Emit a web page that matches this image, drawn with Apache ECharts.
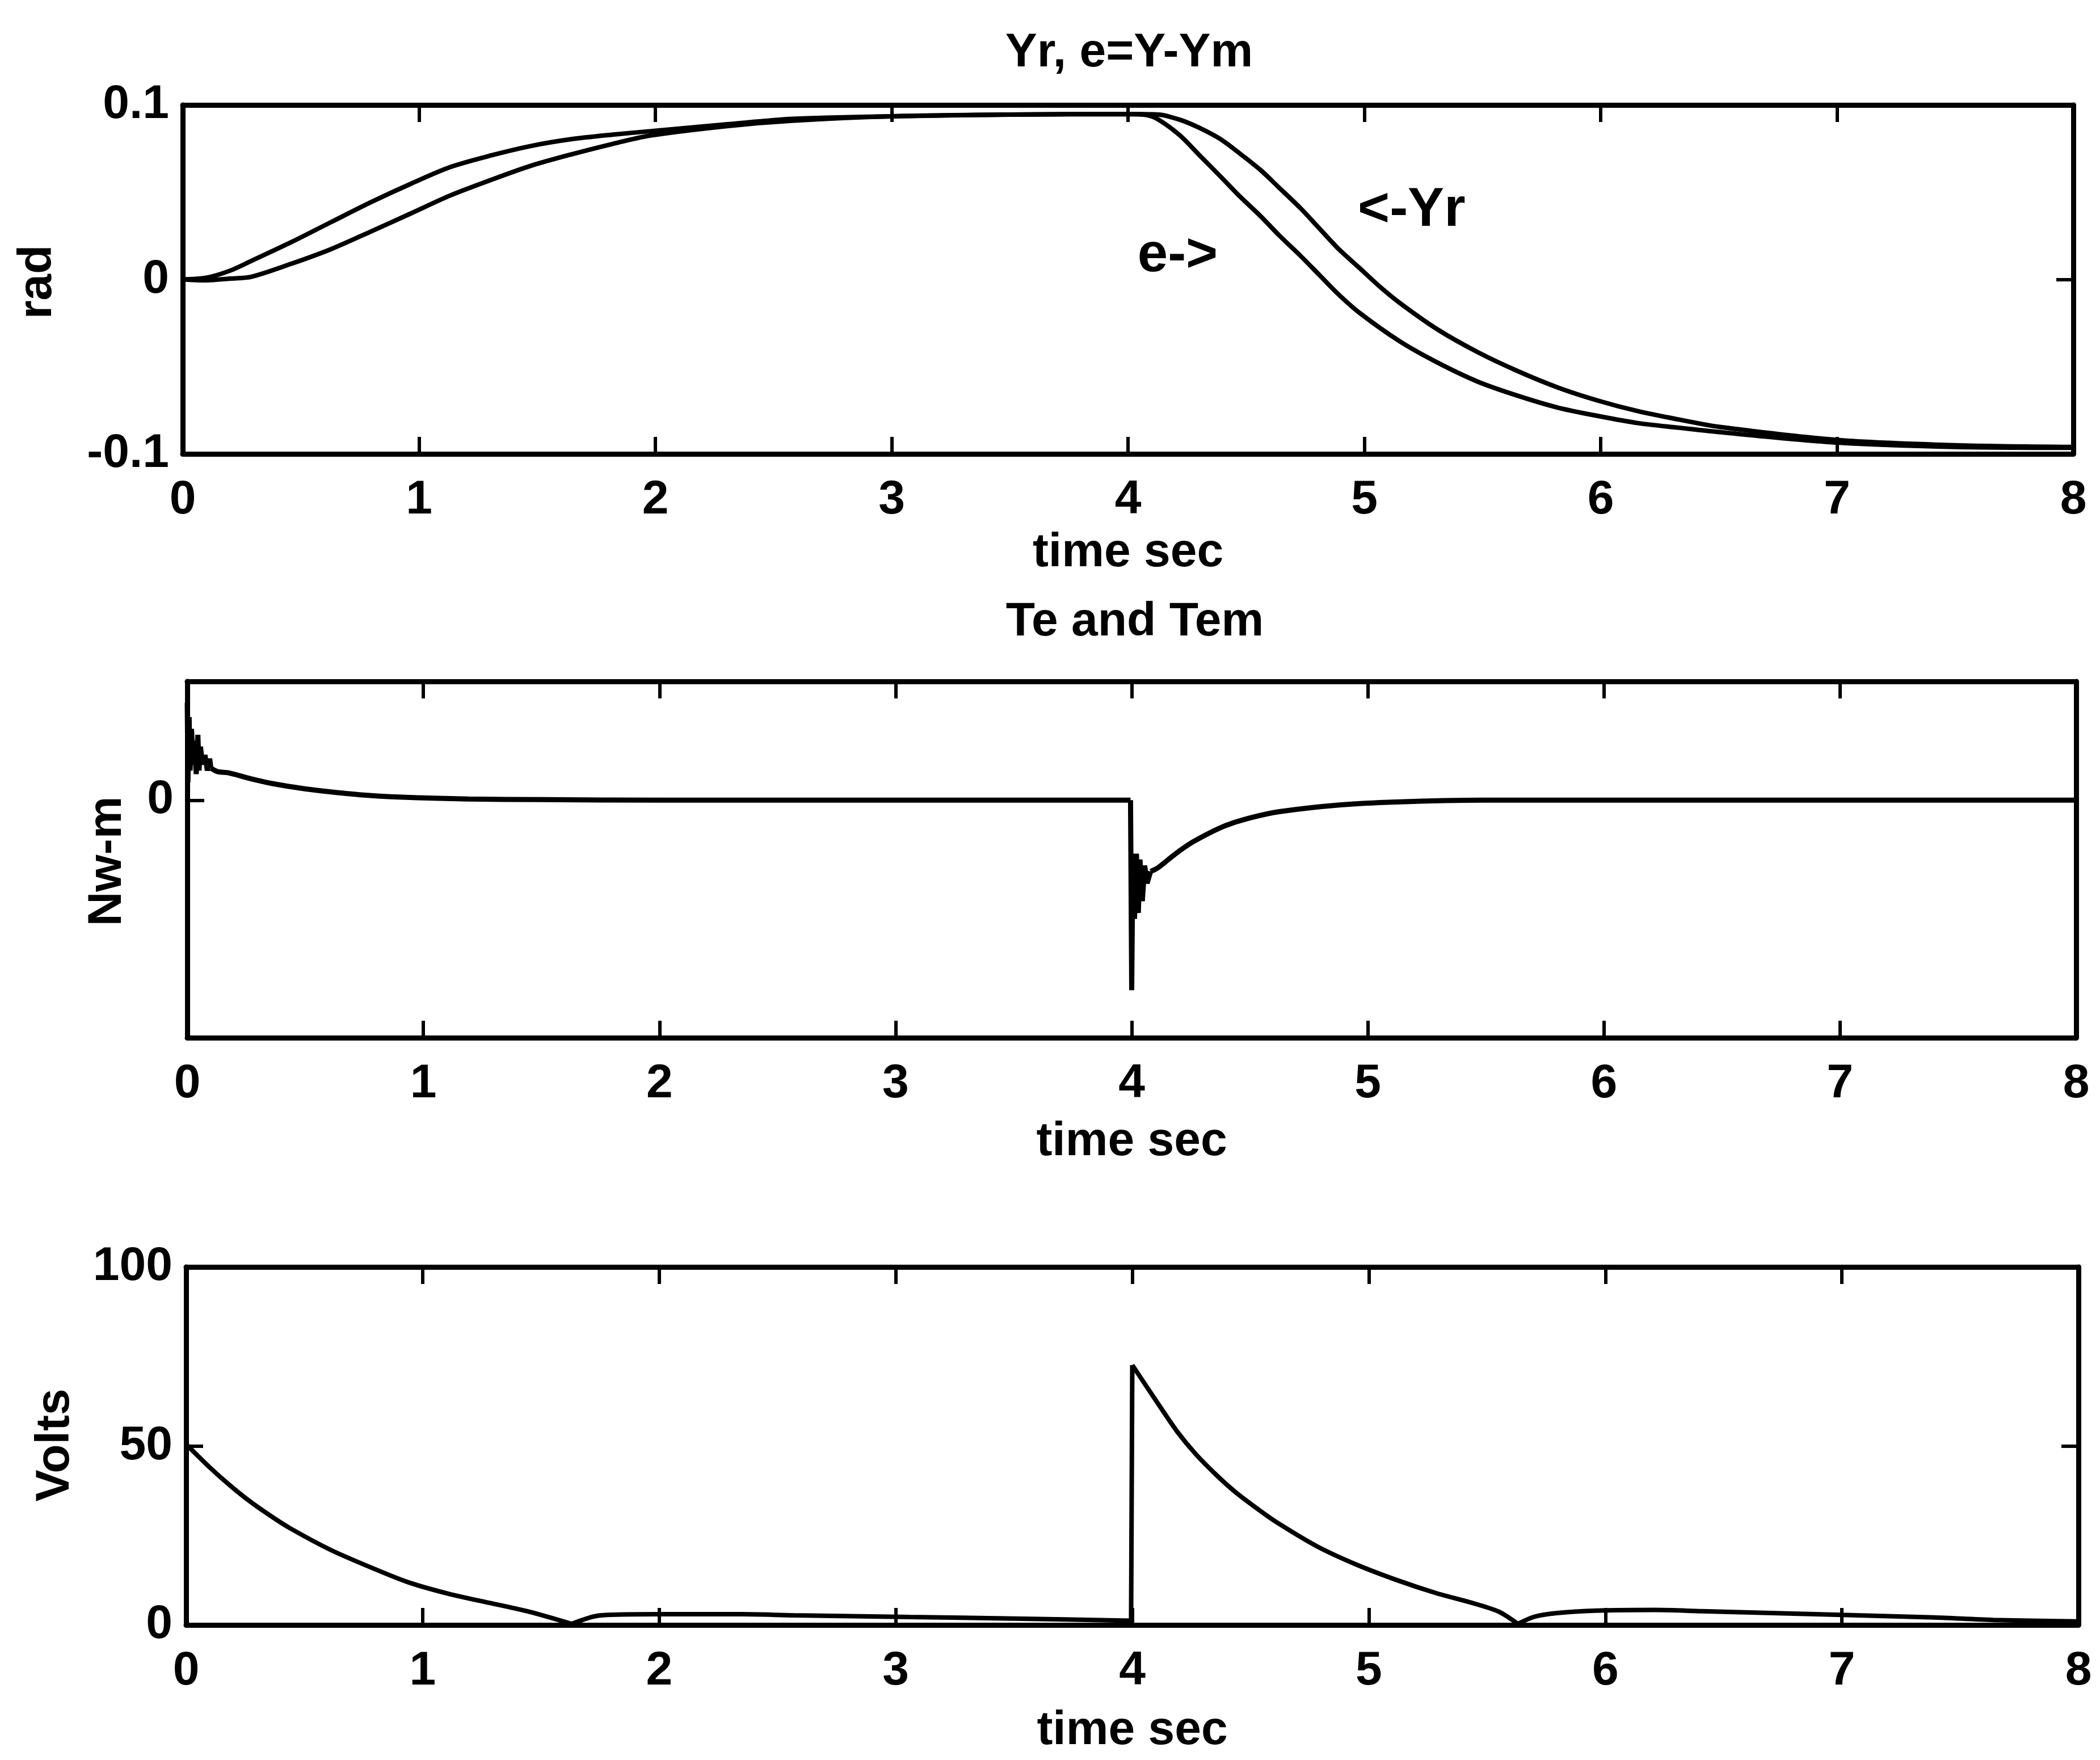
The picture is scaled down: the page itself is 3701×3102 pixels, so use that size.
<!DOCTYPE html>
<html lang="en">
<head>
<meta charset="UTF-8">
<title>Yr, e=Y-Ym / Te and Tem / Volts</title>
<script src="https://cdn.jsdelivr.net/npm/echarts@6/dist/echarts.min.js"></script>
<style>
    html, body { margin: 0; padding: 0; background: #fff; }
    #chart { width: 3701px; height: 3102px; }
</style>
</head>
<body>
<div id="chart"></div>
<script>
    // panel 1: Yr and e (rad)
    const eTime = [0, 0.1, 0.2, 0.29, 0.46, 0.63, 0.8, 0.965, 1.13, 1.3, 1.47, 1.64, 1.82, 1.98, 2.31, 2.58, 3.0, 3.5, 4.0,
        4.08, 4.13, 4.22, 4.30, 4.39, 4.47, 4.56, 4.64, 4.73, 4.81, 4.89, 4.98, 5.15, 5.31, 5.48, 5.65, 5.82, 5.99, 6.16, 6.33, 6.5, 7.0, 7.5, 8.0];
    const eValues = [0, 0.001, 0.005, 0.0106, 0.0214, 0.033, 0.0445, 0.0548, 0.0643, 0.0709, 0.0764, 0.0803, 0.083, 0.085, 0.089, 0.092, 0.0935, 0.0945, 0.0948,
        0.0942, 0.0915, 0.0825, 0.0715, 0.0592, 0.048, 0.0364, 0.0252, 0.0135, 0.0025, -0.0085, -0.0192, -0.0355, -0.0477, -0.0586, -0.0667, -0.0735, -0.0783, -0.0824, -0.085, -0.0875, -0.0935, -0.096, -0.0965];

    const yrTime = [0, 0.1, 0.2, 0.29, 0.46, 0.63, 0.8, 0.965, 1.13, 1.3, 1.47, 1.64, 1.82, 1.98, 2.31, 2.58, 3.0, 3.5, 4.0,
        4.13, 4.22, 4.30, 4.39, 4.47, 4.56, 4.64, 4.73, 4.81, 4.89, 4.98, 5.06, 5.15, 5.31, 5.48, 5.65, 5.82, 5.99, 6.16, 6.33, 6.5, 7.0, 7.5, 8.0];
    const yrValues = [0, -0.0005, 0.0005, 0.0015, 0.009, 0.0175, 0.0277, 0.0378, 0.048, 0.0568, 0.065, 0.0715, 0.0777, 0.0825, 0.088, 0.091, 0.0935, 0.0945, 0.0948,
        0.0945, 0.0915, 0.087, 0.0805, 0.0725, 0.0628, 0.0525, 0.0408, 0.0292, 0.0176, 0.0065, -0.0035, -0.0135, -0.0287, -0.0417, -0.0526, -0.062, -0.0695, -0.0756, -0.0803, -0.0845, -0.092, -0.095, -0.096];

    // panel 2: Te and Tem (Nw-m, no scale printed except 0)
    const teTime = [0, 0.003, 0.008, 0.012, 0.018, 0.025, 0.03, 0.038, 0.045, 0.05, 0.056, 0.065, 0.075, 0.085, 0.095, 0.1, 0.13, 0.175, 0.27, 0.36, 0.45, 0.54, 0.73, 0.91, 1.19, 1.5, 2.0, 3.0, 3.995,
        4.0, 4.005, 4.012, 4.02, 4.028, 4.035, 4.045, 4.055, 4.065, 4.08, 4.11, 4.155, 4.2, 4.26, 4.39, 4.51, 4.63, 4.88, 5.12, 5.49, 6.0, 7.0, 8.0];
    const teValues = [0.82, 0.15, 0.7, 0.25, 0.6, 0.3, 0.5, 0.22, 0.55, 0.25, 0.45, 0.3, 0.38, 0.25, 0.35, 0.27, 0.24, 0.23, 0.18, 0.14, 0.11, 0.085, 0.046, 0.025, 0.01, 0.005, 0, 0, 0,
        -1.6, -0.45, -1.0, -0.45, -0.95, -0.5, -0.85, -0.55, -0.7, -0.6, -0.57, -0.5, -0.43, -0.35, -0.22, -0.145, -0.095, -0.04, -0.015, 0, 0, 0, 0];

    // panel 3: control voltage (Volts)
    const voltTime = [0, 0.1, 0.185, 0.27, 0.35, 0.44, 0.61, 0.78, 0.94, 1.11, 1.28, 1.45, 1.63, 1.72, 1.78, 2.0, 2.35, 2.57, 3.06, 3.5, 3.995,
        4.0, 4.105, 4.19, 4.27, 4.36, 4.44, 4.53, 4.61, 4.78, 4.95, 5.12, 5.28, 5.45, 5.55, 5.63, 5.70, 5.79, 5.96, 6.21, 6.41, 7.0, 7.39, 7.64, 8.0];
    const voltValues = [50.5, 44.0, 39.0, 34.5, 30.8, 27.0, 21.0, 16.1, 11.9, 8.7, 6.2, 3.7, 0.3, 2.3, 2.8, 3.0, 3.0, 2.7, 2.2, 1.8, 1.2,
        72.6, 62.2, 54.0, 47.6, 41.6, 36.9, 32.4, 28.7, 22.0, 16.8, 12.5, 9.0, 5.9, 3.7, 0.3, 2.3, 3.3, 4.0, 4.2, 3.85, 2.8, 2.1, 1.4, 1.0];

    // where the traces jump or have a corner: drawn straight there, smooth elsewhere
    const teBreaks = [0, 0.1, 3.995, 4.08, 8.0];
    const teSmooth = [0, 0.3, 0, 0.3];
    const voltBreaks = [0, 1.63, 3.995, 4.0, 5.63, 8.0];
    const voltSmooth = [0.3, 0.3, 0, 0.3, 0.3];

    const FONT = '"Liberation Sans", Arial, Helvetica, sans-serif';
    const text = (size) => ({color: '#000', fontSize: size, fontWeight: 'bold', fontFamily: FONT});

    const pairs = (ts, vs) => ts.map((t, i) => [t, vs[i]]);

    let chart = echarts.init(document.getElementById('chart'));

    let grids = [
        {left: 322, top: 185, width: 3332, height: 615},
        {left: 330, top: 1201, width: 3329, height: 628},
        {left: 328, top: 2233, width: 3335, height: 631}
    ];

    let frameLine = {show: true, onZero: false, lineStyle: {color: '#000', width: 9}};
    let innerTick = {show: true, inside: true, length: 30, lineStyle: {color: '#000', width: 6}};

    let xAxes = [];
    let nameGaps = [133, 142, 145];
    grids.forEach((g, i) => {
        xAxes.push({
            type: 'value', gridIndex: i, position: 'bottom', min: 0, max: 8, interval: 1,
            axisLine: frameLine, axisTick: innerTick, splitLine: {show: false},
            axisLabel: Object.assign({margin: 40}, text(84)),
            name: 'time sec', nameLocation: 'middle', nameGap: nameGaps[i], nameTextStyle: text(84)
        });
        xAxes.push({
            type: 'value', gridIndex: i, position: 'top', min: 0, max: 8, interval: 1,
            axisLine: frameLine, axisTick: innerTick, splitLine: {show: false},
            axisLabel: {show: false}
        });
    });

    let yRanges = [
        {min: -0.1, max: 0.1, interval: 0.1, formatter: null},
        {min: -2, max: 1, interval: 2, formatter: v => (v === 0 ? '0' : '')},
        {min: 0, max: 100, interval: 50, formatter: null}
    ];
    let yAxes = [];
    yRanges.forEach((r, i) => {
        let label = Object.assign({margin: 24}, text(84));
        if (r.formatter) label.formatter = r.formatter;
        yAxes.push({
            type: 'value', gridIndex: i, position: 'left', min: r.min, max: r.max, interval: r.interval,
            axisLine: frameLine, axisTick: innerTick, splitLine: {show: false}, axisLabel: label
        });
        yAxes.push({
            type: 'value', gridIndex: i, position: 'right', min: r.min, max: r.max, interval: r.interval,
            axisLine: frameLine, axisTick: innerTick, splitLine: {show: false}, axisLabel: {show: false}
        });
    });

    const curve = (width) => ({color: '#000', width: width});
    const note = (coord, label) => ({
        symbol: 'circle', symbolSize: 1, itemStyle: {color: 'rgba(0,0,0,0)'},
        label: Object.assign({show: true, position: 'inside', formatter: label}, text(96)),
        data: [{coord: coord}]
    });

    // one line series per piece between break times
    function pieces(name, ts, vs, breaks, smooth, axis, width) {
        let cut = breaks.map(t => ts.indexOf(t));
        let out = [];
        for (let k = 0; k < cut.length - 1; k++) {
            out.push({
                name: name, type: 'line', xAxisIndex: axis * 2, yAxisIndex: axis * 2, showSymbol: false,
                smooth: smooth[k], lineStyle: curve(width),
                data: pairs(ts.slice(cut[k], cut[k + 1] + 1), vs.slice(cut[k], cut[k + 1] + 1))
            });
        }
        return out;
    }

    let option = {
        animation: false,
        backgroundColor: '#fff',
        grid: grids,
        xAxis: xAxes,
        yAxis: yAxes,
        graphic: [
            {type: 'text', x: 1990, y: 94, style: {text: 'Yr, e=Y-Ym', align: 'center', verticalAlign: 'middle', fill: '#000', fontSize: 84, fontWeight: 'bold', fontFamily: FONT}},
            {type: 'text', x: 2000, y: 1097, style: {text: 'Te and Tem', align: 'center', verticalAlign: 'middle', fill: '#000', fontSize: 84, fontWeight: 'bold', fontFamily: FONT}},
            {type: 'text', x: 67, y: 497, rotation: Math.PI / 2, style: {text: 'rad', align: 'center', verticalAlign: 'middle', fill: '#000', fontSize: 84, fontWeight: 'bold', fontFamily: FONT}},
            {type: 'text', x: 190, y: 1518, rotation: Math.PI / 2, style: {text: 'Nw-m', align: 'center', verticalAlign: 'middle', fill: '#000', fontSize: 84, fontWeight: 'bold', fontFamily: FONT}},
            {type: 'text', x: 98, y: 2547, rotation: Math.PI / 2, style: {text: 'Volts', align: 'center', verticalAlign: 'middle', fill: '#000', fontSize: 84, fontWeight: 'bold', fontFamily: FONT}}
        ],
        series: [
            {
                name: 'e', type: 'line', xAxisIndex: 0, yAxisIndex: 0, showSymbol: false, smooth: 0.3,
                lineStyle: curve(8), data: pairs(eTime, eValues),
                markPoint: note([4.21, 0.0132], 'e->')
            },
            {
                name: 'Yr', type: 'line', xAxisIndex: 0, yAxisIndex: 0, showSymbol: false, smooth: 0.3,
                lineStyle: curve(8), data: pairs(yrTime, yrValues),
                markPoint: note([5.2, 0.0392], '<-Yr')
            }
        ]
            .concat(pieces('Te', teTime, teValues, teBreaks, teSmooth, 1, 9))
            .concat(pieces('Volts', voltTime, voltValues, voltBreaks, voltSmooth, 2, 8))
    };

    chart.setOption(option);
</script>
</body>
</html>
